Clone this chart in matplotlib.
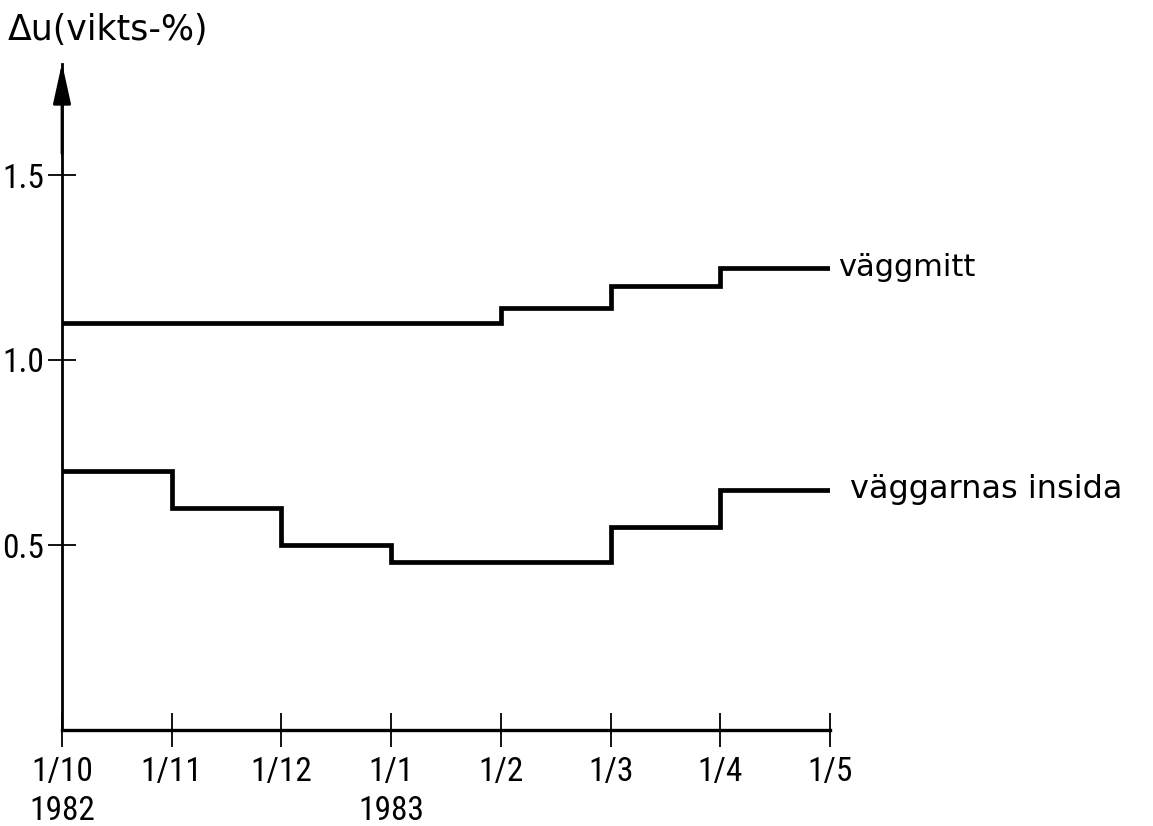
import matplotlib
matplotlib.use("Agg")
import matplotlib.pyplot as plt
from matplotlib import font_manager
import numpy as np

months = ['1/10', '1/11', '1/12', '1/1', '1/2', '1/3', '1/4', '1/5']
years = ['1982', '', '', '1983', '', '', '', '']
vaggmitt = [1.10, 1.10, 1.10, 1.10, 1.14, 1.20, 1.25]
insida = [0.70, 0.60, 0.50, 0.455, 0.455, 0.55, 0.65]
yticks = [0.5, 1.0, 1.5]
ytick_labels = ['0.5', '1.0', '1.5']

names = {f.name for f in font_manager.fontManager.ttflist}
narrow = None
for cand in ['Liberation Sans Narrow', 'DejaVu Sans Condensed', 'Roboto Condensed', 'Open Sans Condensed']:
    if cand in names:
        narrow = cand
        break
tick_fam = [narrow, 'DejaVu Sans'] if narrow else ['DejaVu Sans']
tick_fs = 24 if narrow else 20
plt.rcParams['font.family'] = ['DejaVu Sans']

W, H = 1153, 826
fig = plt.figure(figsize=(W / 100, H / 100), dpi=100)
x0, x1 = 62, 830
ybot = 730
ytop = ybot - 1.8 * 370
ax = fig.add_axes([x0 / W, (H - ybot) / H, (x1 - x0) / W, (ybot - ytop) / H])

edges = np.arange(len(months))
ax.stairs(vaggmitt, edges, baseline=None, color='black', lw=3.4)
ax.stairs(insida, edges, baseline=None, color='black', lw=3.4)

ax.set_xlim(0, 7)
ax.set_ylim(0, 1.8)
for s in ['top', 'right']:
    ax.spines[s].set_visible(False)
ax.spines['left'].set_linewidth(2)
ax.spines['bottom'].set_linewidth(2.4)

ax.set_xticks(edges)
ax.set_xticklabels([m + '\n' + y if y else m + '\n ' for m, y in zip(months, years)],
                   fontsize=tick_fs, family=tick_fam, linespacing=1.25)
ax.tick_params(axis='x', direction='inout', length=24, width=1.3, pad=7)
ax.set_yticks(yticks)
ax.set_yticklabels(ytick_labels, fontsize=tick_fs, family=tick_fam)
ax.tick_params(axis='y', direction='inout', length=20, width=1.3, pad=3)
for lab in ax.get_yticklabels():
    lab.set_verticalalignment('center_baseline')

# arrow on y axis
ax.annotate('', xy=(0, 1.81), xytext=(0, 1.55), xycoords='data',
            arrowprops=dict(arrowstyle='-|>,head_length=2.5,head_width=0.55', color='black', lw=2),
            annotation_clip=False)

ax.text(7.07, 1.25, 'väggmitt', fontsize=22, va='center', ha='left', clip_on=False)
ax.text(7.18, 0.65, 'väggarnas insida', fontsize=23, va='center', ha='left', clip_on=False)

fig.text(8 / W, 1 - 30 / H, 'Δu(vikts-%)', fontsize=25, va='center', ha='left')

fig.savefig('out.png', dpi=100)
